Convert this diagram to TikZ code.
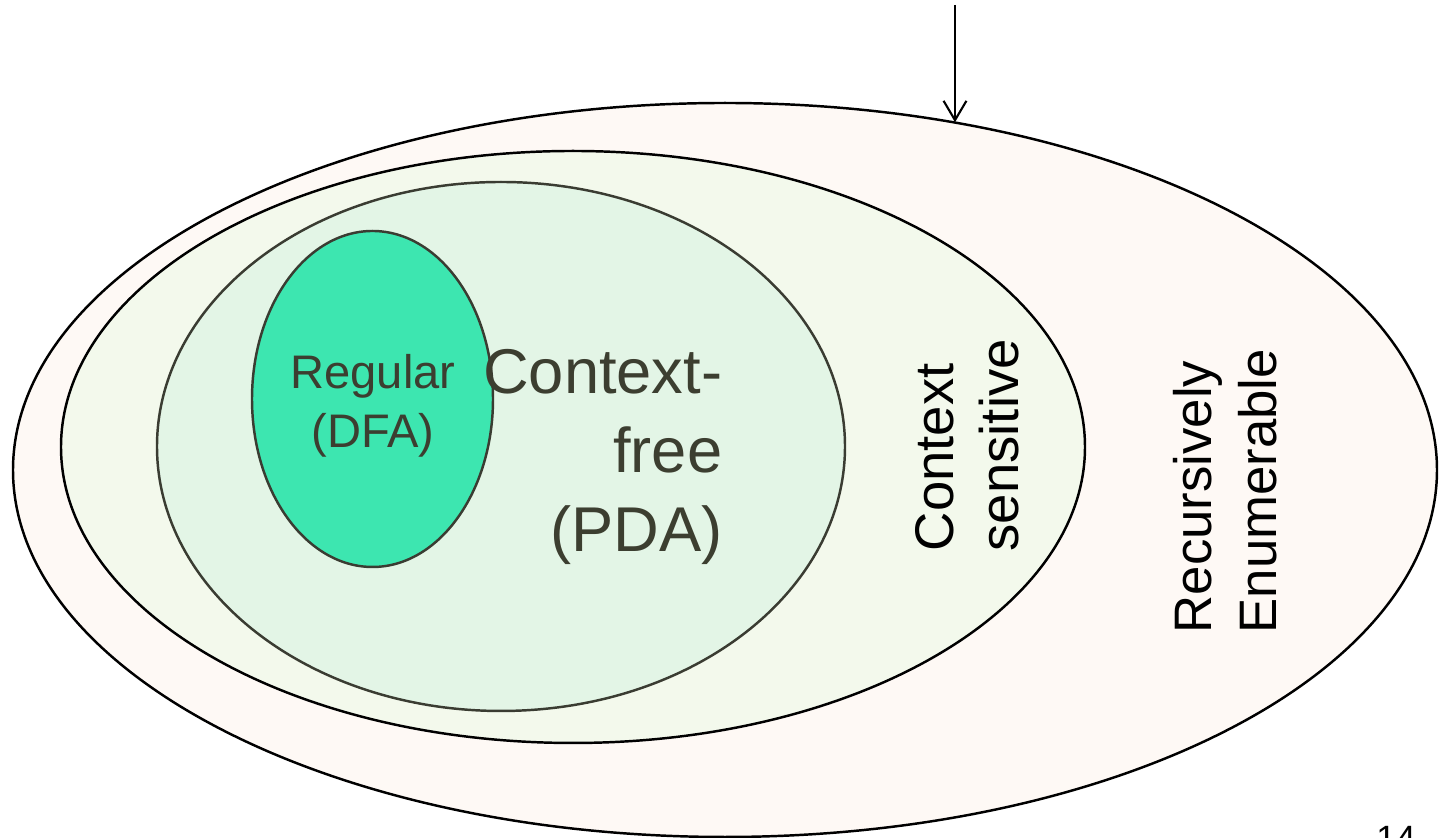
\documentclass[tikz,border=0pt]{standalone}
\usepackage{fontspec}
\setmainfont{Liberation Sans}
\usepackage{tikz}
\usetikzlibrary{calc}
\usetikzlibrary{shapes}
\usetikzlibrary{arrows.meta}
\definecolor{reclr}{HTML}{FEF9F5}
\definecolor{csclr}{HTML}{F3F9EC}
\definecolor{cfclr}{HTML}{E3F5E6}
\definecolor{regclr}{HTML}{3DE6B0}
\definecolor{edgeclr}{HTML}{3A3C32}
\definecolor{txtclr}{HTML}{3C3E30}
\newcommand{\langset}[6]{\node[ellipse, draw=#5, fill=#6, line width=0.7pt, inner sep=0pt, minimum width=#3 cm, minimum height=#4 cm] (#1) at (#2) {};}

\begin{document}
\begin{tikzpicture}
        \useasboundingbox (0,0) rectangle (14.45,8.38);
        % recursively enumerable
        \langset{re}{7.25,3.68}{14.24}{7.34}{black}{reclr}
        % context sensitive
        \langset{cs}{5.73,3.91}{10.24}{5.92}{black}{csclr}
        % context free
        \langset{cf}{5.01,3.915}{6.88}{5.29}{edgeclr}{cfclr}
        % regular
        \langset{reg}{3.725,4.39}{2.41}{3.36}{edgeclr}{regclr}
        % labels
        \node[inner sep=0pt, align=center, text=txtclr, font=\fontsize{13.4}{16.8}\selectfont] (reglbl) at (3.73,4.32) {Regular\\(DFA)};
        \node[inner sep=0pt, align=right, anchor=east, text=txtclr, font=\fontsize{18}{22.5}\selectfont] (cflbl) at (7.23,3.81) {Context-\\free\\(PDA)};
        \node[inner sep=0pt, align=left, anchor=west, rotate=90, font=\fontsize{15.5}{18.5}\selectfont] (cslbl) at (9.67,2.86) {Context\\sensitive};
        \node[inner sep=0pt, align=left, anchor=west, rotate=90, font=\fontsize{15}{18.5}\selectfont] (relbl) at (12.25,2.04) {Recursively\\Enumerable};
        % arrow
        \coordinate (top) at (9.55,8.33);
        \draw[-{Straight Barb[length=5.5pt,width=6.5pt]}, line width=0.6pt] (top) -- (top |- re.56);
        % page number
        \node[anchor=base, inner sep=0pt, font=\fontsize{10}{12}\selectfont] (pagenum) at (13.96,-0.13) {14};
\end{tikzpicture}
\end{document}
